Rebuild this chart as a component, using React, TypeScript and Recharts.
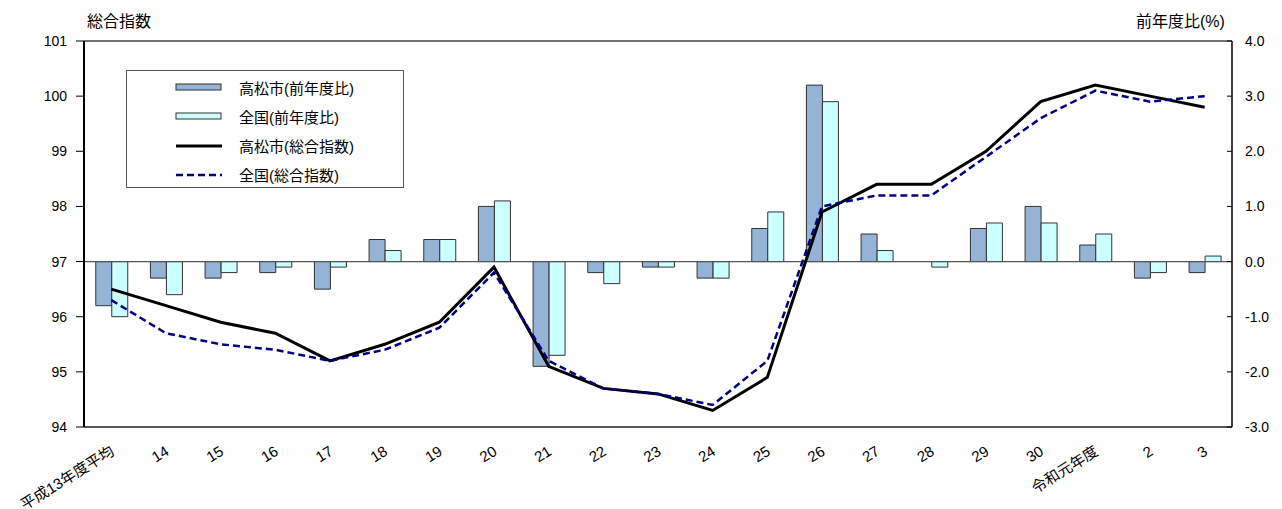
import React from 'react';
import {
  ComposedChart,
  Bar,
  Line,
  XAxis,
  YAxis,
  ReferenceLine,
} from 'recharts';

const categories = [
  '平成13年度平均', '14', '15', '16', '17', '18', '19', '20', '21', '22', '23',
  '24', '25', '26', '27', '28', '29', '30', '令和元年度', '2', '3',
];

// 総合指数 (left axis)
const takamatsuIndex = [
  96.5, 96.2, 95.9, 95.7, 95.2, 95.5, 95.9, 96.9, 95.1, 94.7, 94.6,
  94.3, 94.9, 97.9, 98.4, 98.4, 99.0, 99.9, 100.2, 100.0, 99.8,
];
const nationalIndex = [
  96.3, 95.7, 95.5, 95.4, 95.2, 95.4, 95.8, 96.8, 95.2, 94.7, 94.6,
  94.4, 95.2, 98.0, 98.2, 98.2, 98.9, 99.6, 100.1, 99.9, 100.0,
];

// 前年度比 % (right axis)
const takamatsuChange = [
  -0.8, -0.3, -0.3, -0.2, -0.5, 0.4, 0.4, 1.0, -1.9, -0.2, -0.1,
  -0.3, 0.6, 3.2, 0.5, 0.0, 0.6, 1.0, 0.3, -0.3, -0.2,
];
const nationalChange = [
  -1.0, -0.6, -0.2, -0.1, -0.1, 0.2, 0.4, 1.1, -1.7, -0.4, -0.1,
  -0.3, 0.9, 2.9, 0.2, -0.1, 0.7, 0.7, 0.5, -0.2, 0.1,
];

const leftTicks = [94, 95, 96, 97, 98, 99, 100, 101];
const rightTicks = [-3, -2, -1, 0, 1, 2, 3, 4];

const data = categories.map((name, i) => ({
  name,
  takaIdx: takamatsuIndex[i],
  zenIdx: nationalIndex[i],
  takaPct: takamatsuChange[i],
  zenPct: nationalChange[i],
}));

const FONT = '"Liberation Sans", "Noto Sans CJK JP", sans-serif';
const TAKA_FILL = '#95b3d7';
const ZEN_FILL = '#ccffff';
const NAVY = '#000080';

const XTick = (props: any) => {
  const { x, y, payload } = props;
  return (
    <text
      transform={`translate(${x + 4},${y + 27}) rotate(-32)`}
      textAnchor="end"
      fontSize={15}
      fontFamily={FONT}
      fill="#000"
    >
      {payload.value}
    </text>
  );
};

const RightTick = (props: any) => {
  const { x, y, payload } = props;
  const axisX = x - 13;
  return (
    <g>
      <line x1={axisX - 5} x2={axisX} y1={y} y2={y} stroke="#000" />
      <text x={x} y={y + 5} textAnchor="start" fontSize={14} fontFamily={FONT} fill="#000">
        {Number(payload.value).toFixed(1)}
      </text>
    </g>
  );
};

const legendItems = [
  { label: '高松市(前年度比)', kind: 'bar', color: TAKA_FILL },
  { label: '全国(前年度比)', kind: 'bar', color: ZEN_FILL },
  { label: '高松市(総合指数)', kind: 'line', color: '#000' },
  { label: '全国(総合指数)', kind: 'dash', color: NAVY },
];

export default function App() {
  return (
    <div style={{ position: 'absolute', left: 0, top: 0, width: 1282, height: 509, background: '#fff', fontFamily: FONT }}>
      <div style={{ position: 'absolute', left: 87, top: 8, fontSize: 16, color: '#000' }}>総合指数</div>
      <div style={{ position: 'absolute', left: 1136, top: 8, fontSize: 16, color: '#000' }}>前年度比(%)</div>

      <ComposedChart
        width={1282}
        height={509}
        data={data}
        margin={{ top: 41, right: 5, bottom: 52, left: 44 }}
        barCategoryGap="21.5%"
        barGap={0}
      >
        <XAxis
          dataKey="name"
          interval={0}
          height={30}
          tickLine={false}
          tickSize={0}
          tickMargin={0}
          axisLine={{ stroke: '#222', strokeWidth: 1.5 }}
          tick={<XTick />}
        />
        <YAxis
          yAxisId="left"
          orientation="left"
          domain={[94, 101]}
          ticks={leftTicks}
          width={40}
          tickSize={8}
          tickMargin={9}
          axisLine={{ stroke: '#000', strokeWidth: 2 }}
          tickLine={{ stroke: '#000' }}
          tick={{ fill: '#000', fontSize: 14, fontFamily: FONT }}
        />
        <YAxis
          yAxisId="right"
          orientation="right"
          domain={[-3, 4]}
          ticks={rightTicks}
          width={45}
          tickSize={0}
          tickMargin={13}
          tickLine={false}
          axisLine={{ stroke: '#000', strokeWidth: 1.5 }}
          tick={<RightTick />}
        />
        <ReferenceLine yAxisId="left" y={101} stroke="#444" strokeWidth={1.5} />
        <ReferenceLine yAxisId="right" y={0} stroke="#555" strokeWidth={1.2} />
        <Bar
          yAxisId="right"
          dataKey="takaPct"
          fill={TAKA_FILL}
          stroke="#333"
          strokeWidth={1}
          isAnimationActive={false}
        />
        <Bar
          yAxisId="right"
          dataKey="zenPct"
          fill={ZEN_FILL}
          stroke="#333"
          strokeWidth={1}
          isAnimationActive={false}
        />
        <Line
          yAxisId="left"
          type="linear"
          dataKey="takaIdx"
          stroke="#000"
          strokeWidth={3}
          dot={false}
          activeDot={false}
          isAnimationActive={false}
        />
        <Line
          yAxisId="left"
          type="linear"
          dataKey="zenIdx"
          stroke={NAVY}
          strokeWidth={2.5}
          strokeDasharray="7 4"
          dot={false}
          activeDot={false}
          isAnimationActive={false}
        />
      </ComposedChart>

      <div
        style={{
          position: 'absolute',
          left: 126,
          top: 70,
          width: 278,
          height: 118,
          border: '1px solid #555',
          background: '#fff',
          boxSizing: 'border-box',
        }}
      >
        {legendItems.map((item, i) => (
          <div
            key={item.label}
            style={{ position: 'absolute', left: 48, top: 5 + i * 29.3, height: 22, display: 'flex', alignItems: 'center' }}
          >
            <svg width={48} height={22} style={{ display: 'block' }}>
              {item.kind === 'bar' && (
                <rect x={1} y={8} width={45} height={6} fill={item.color} stroke="#333" strokeWidth={1} />
              )}
              {item.kind === 'line' && <line x1={1} x2={47} y1={11} y2={11} stroke={item.color} strokeWidth={3} />}
              {item.kind === 'dash' && (
                <line x1={1} x2={47} y1={11} y2={11} stroke={item.color} strokeWidth={2.5} strokeDasharray="7 4" />
              )}
            </svg>
            <span style={{ marginLeft: 16, fontSize: 15, color: '#000', whiteSpace: 'nowrap' }}>{item.label}</span>
          </div>
        ))}
      </div>
    </div>
  );
}
